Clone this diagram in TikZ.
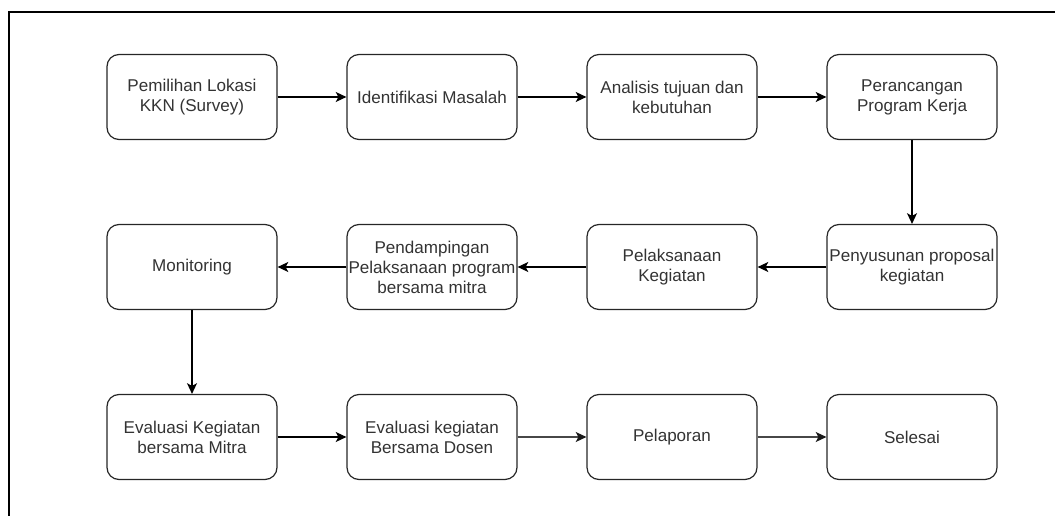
\documentclass[tikz,border=0pt]{standalone}
\usepackage{fontspec}
\setmainfont{Liberation Sans}
\usetikzlibrary{arrows.meta}
\tikzset{
  kotak/.style={draw=black!85, line width=0.9pt, rounded corners=9pt,
    minimum width=127.5pt, minimum height=63.75pt, inner sep=0pt,
    align=center, text=black!80, font=\fontsize{12.8}{15}\selectfont},
  panah/.style={-{Stealth[length=8pt,width=7.5pt,inset=2pt]}, line width=0.9pt},
  panahabu/.style={panah, draw=black!72, -{Stealth[length=8pt,width=7.5pt,inset=2pt,color=black!90]}}
}
\begin{document}
\begin{tikzpicture}[x=0.75pt,y=-0.75pt]
    \useasboundingbox (0,0) rectangle (1055,516);
    \draw[line width=1.4pt] (9,516) -- (9,12) -- (1055,12);
    % baris pertama
    \node[kotak] (pemilihan) at (192,97) {Pemilihan Lokasi\\KKN (Survey)};
    \node[kotak] (identifikasi) at (432,97) {Identifikasi Masalah};
    \node[kotak] (analisis) at (672,97) {Analisis tujuan dan\\kebutuhan};
    \node[kotak] (perancangan) at (912,97) {Perancangan\\Program Kerja};
    % baris kedua
    \node[kotak] (monitoring) at (192,267) {Monitoring};
    \node[kotak] (pendampingan) at (432,267) {Pendampingan\\Pelaksanaan program\\bersama mitra};
    \node[kotak] (pelaksanaan) at (672,267) {Pelaksanaan\\Kegiatan};
    \node[kotak] (penyusunan) at (912,267) {Penyusunan proposal\\kegiatan};
    % baris ketiga
    \node[kotak] (evalmitra) at (192,437) {Evaluasi Kegiatan\\bersama Mitra};
    \node[kotak] (evaldosen) at (432,437) {Evaluasi kegiatan\\Bersama Dosen};
    \node[kotak] (pelaporan) at (672,437) {Pelaporan};
    \node[kotak] (selesai) at (912,437) {Selesai};
    % panah
    \draw[panah] (pemilihan) -- (identifikasi);
    \draw[panah] (identifikasi) -- (analisis);
    \draw[panah] (analisis) -- (perancangan);
    \draw[panah] (perancangan) -- (penyusunan);
    \draw[panah] (penyusunan) -- (pelaksanaan);
    \draw[panah] (pelaksanaan) -- (pendampingan);
    \draw[panah] (pendampingan) -- (monitoring);
    \draw[panah] (monitoring) -- (evalmitra);
    \draw[panah] (evalmitra) -- (evaldosen);
    \draw[panahabu] (evaldosen) -- (pelaporan);
    \draw[panahabu] (pelaporan) -- (selesai);
\end{tikzpicture}
\end{document}
